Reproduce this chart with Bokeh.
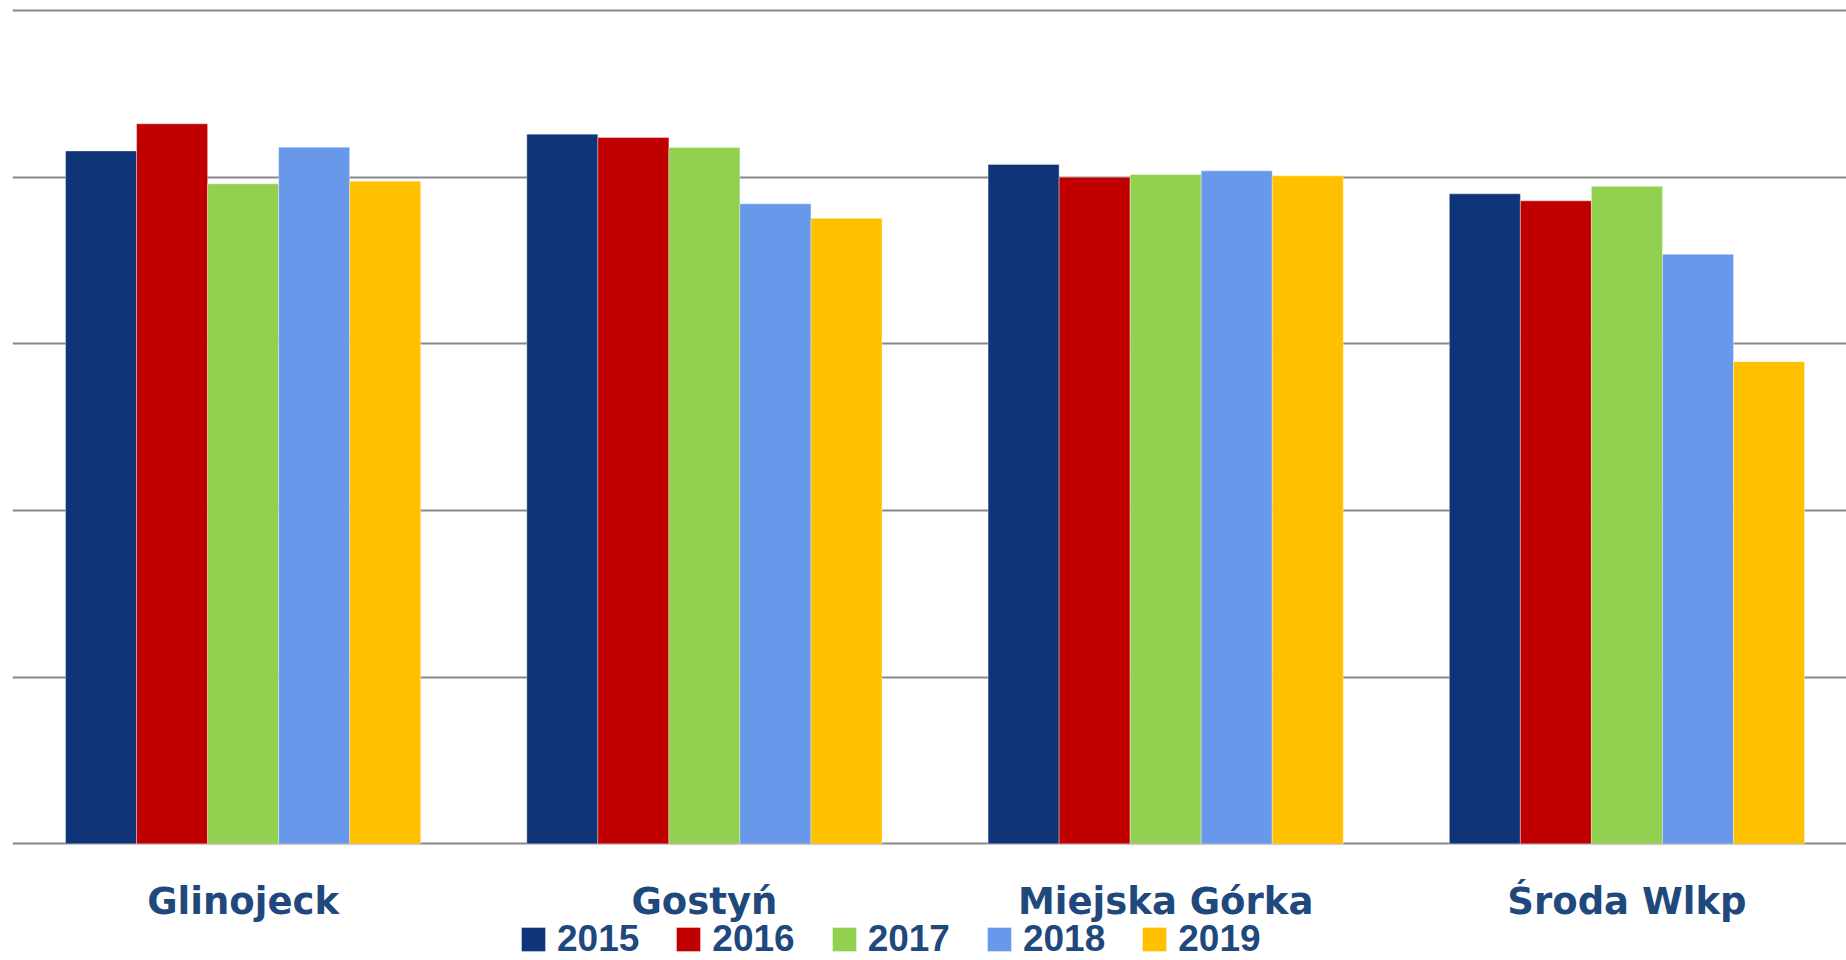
from bokeh.plotting import figure
from bokeh.models import FixedTicker, Range1d, Legend, LegendItem, ColumnDataSource
from bokeh.core.properties import value
from bokeh.transform import dodge
from bokeh.embed import file_html
from bokeh.resources import INLINE

categories = ["Glinojeck", "Gostyń", "Miejska Górka", "Środa Wlkp"]
years = ["2015", "2016", "2017", "2018", "2019"]
v2015 = [4.157, 4.258, 4.076, 3.900]
v2016 = [4.320, 4.238, 4.000, 3.858]
v2017 = [3.960, 4.178, 4.016, 3.945]
v2018 = [4.180, 3.840, 4.038, 3.537]
v2019 = [3.976, 3.753, 4.008, 2.893]
series = [v2015, v2016, v2017, v2018, v2019]
colors = ["#0F3578", "#C00000", "#92D050", "#6898E9", "#FFC000"]
text_color = "#1F497D"

xpos = list(range(len(categories)))
src = ColumnDataSource(dict(x=xpos, **{y: s for y, s in zip(years, series)}))

# layout constants
label_y = -0.346   # baseline of category labels (below the zero line)
y_bottom = -0.700
y_top = 5.012

p = figure(width=1846, height=960, output_backend="svg", toolbar_location=None,
           x_range=Range1d(-0.5, 3.476), y_range=Range1d(y_bottom, y_top),
           min_border_left=12, min_border_right=0, min_border_top=8, min_border_bottom=0)
p.outline_line_color = None
p.background_fill_color = "white"
p.border_fill_color = "white"
p.xaxis.visible = False
p.yaxis.visible = False
p.xgrid.visible = False

p.ygrid.ticker = FixedTicker(ticks=[0, 1, 2, 3, 4, 5])
p.ygrid.grid_line_color = "#878787"
p.ygrid.grid_line_width = 2

bw = 0.154
renderers = []
for i, (yr, col) in enumerate(zip(years, colors)):
    off = (i - 2) * bw
    r = p.vbar(x=dodge("x", off, range=p.x_range), top=yr, width=bw, source=src,
               fill_color=col, line_color="white", line_alpha=0.35, line_width=1)
    renderers.append(r)

lab_src = ColumnDataSource(dict(x=xpos, y=[label_y] * len(xpos), t=categories))
p.text(x="x", y="y", text="t", source=lab_src, text_align="center",
       text_baseline="alphabetic", text_font=value("DejaVu Sans"),
       text_font_style="bold", text_font_size="37px", text_color=text_color)

legend = Legend(items=[LegendItem(label=y, renderers=[r]) for y, r in zip(years, renderers)],
                orientation="horizontal", location=(506, 0),
                glyph_width=30, glyph_height=30, label_standoff=9, spacing=34,
                padding=0, margin=0, border_line_color=None, background_fill_alpha=0,
                label_text_font="Liberation Sans", label_text_font_style="bold",
                label_text_font_size="37px", label_text_color=text_color,
                label_height=30)
p.add_layout(legend, "center")

open("out.html", "w").write(file_html(p, INLINE))
